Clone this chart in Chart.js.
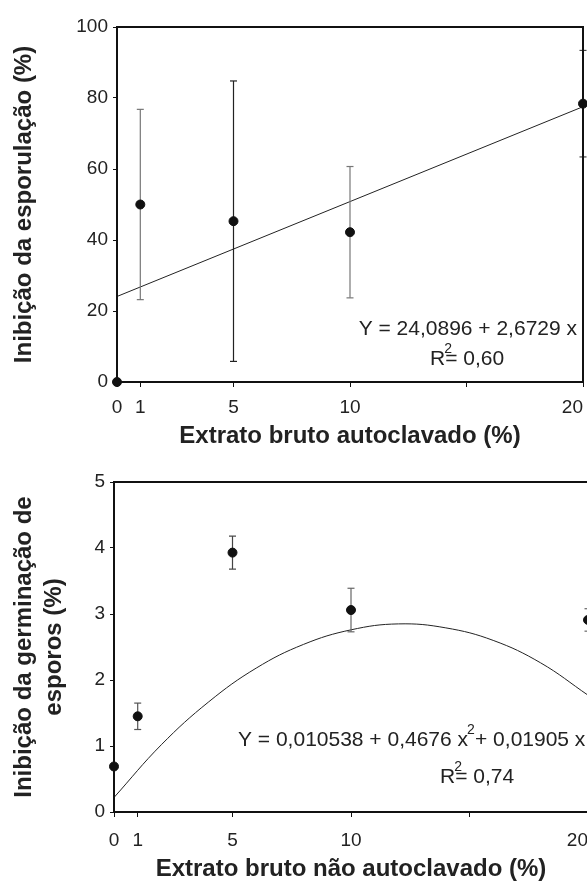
<!DOCTYPE html>
<html>
<head>
<meta charset="utf-8">
<script src="https://cdn.jsdelivr.net/npm/chart.js@4.4.0/dist/chart.umd.min.js"></script>
<style>
  html, body { margin: 0; padding: 0; background: #fff; overflow: hidden; width: 587px; height: 885px; }
  #chart1 { position: absolute; left: 0; top: 0; }
  #chart2 { position: absolute; left: 0; top: 450px; }
</style>
</head>
<body>
<canvas id="chart1" width="587" height="450"></canvas>
<canvas id="chart2" width="600" height="435"></canvas>
<script>
// Extrato bruto
var xTicks = [0, 1, 5, 10, 15, 20];
var xTickLabels = ['0', '1', '5', '10', '', '20\u2007\u2007'];

// Grafico 1 - esporulacao
var concA = [0, 1, 5, 10, 20];
var sporA = [0, 50, 45.3, 42.2, 78.4];
var sporErrA = [0, 26.8, 39.5, 18.5, 15];
var errColA = ['#777', '#777', '#222', '#777', '#444'];
var fitAx = [0, 20];
var fitAy = [24.09, 77.55];

// Grafico 2 - germinacao de esporos
var concB = [0, 1, 5, 10, 20];
var germB = [0.69, 1.45, 3.93, 3.06, 2.91];
var germErrB = [0, 0.2, 0.25, 0.33, 0.17];
var errColB = ['#555', '#555', '#444', '#666', '#666'];
var fitBx = [0, 2, 4, 6, 8, 10, 12, 14, 16, 18, 20];
var fitBy = [0.22, 1.02, 1.67, 2.18, 2.54, 2.76, 2.85, 2.79, 2.60, 2.26, 1.77];

var fam = "'Liberation Sans', Arial, sans-serif";
var tickFont = { family: fam, size: 19 };
var ink = '#222';

function pts(xs, ys) {
    return xs.map(function (x, i) { return { x: x, y: ys[i] }; });
}

function errPts(xs, ys, es, cols) {
    var out = [];
    xs.forEach(function (x, i) {
        if (!es[i]) return;
        out.push({ x: x, y: ys[i] - es[i], c: cols[i] });
        out.push({ x: x, y: ys[i] + es[i], c: cols[i] });
        out.push({ x: x, y: null, c: cols[i] });
    });
    return out;
}

// moldura da area do grafico
var frame = {
    id: 'frame',
    afterDatasetsDraw: function (chart) {
        var a = chart.chartArea, c = chart.ctx;
        c.save();
        c.strokeStyle = '#111';
        c.lineWidth = 2;
        c.strokeRect(a.left, a.top, a.right - a.left, a.bottom - a.top);
        c.restore();
    }
};

// texto com expoente
function drawParts(c, parts, x, y) {
    parts.forEach(function (p) {
        if (p.sup) {
            c.font = '14px ' + fam;
            c.fillText(p.t, x - 1, y - 10);
            x += p.adv || 0;
        } else {
            c.font = '21px ' + fam;
            c.fillText(p.t, x, y);
            x += c.measureText(p.t).width;
        }
    });
}

function partsWidth(c, parts) {
    var w = 0;
    parts.forEach(function (p) {
        if (p.sup) { w += p.adv || 0; }
        else {
            c.font = '21px ' + fam;
            w += c.measureText(p.t).width;
        }
    });
    return w;
}

function eqPlugin(lines) {
    return {
        id: 'eq',
        afterDraw: function (chart) {
            var a = chart.chartArea, c = chart.ctx;
            c.save();
            c.fillStyle = ink;
            c.textBaseline = 'middle';
            c.textAlign = 'left';
            lines.forEach(function (l) {
                var x = l.right != null ? a.left + l.right - partsWidth(c, l.parts) : a.left + l.left;
                drawParts(c, l.parts, x, a.bottom - l.up);
            });
            c.restore();
        }
    };
}

function xScale(title, h, pad, tpad) {
    return {
        type: 'linear', min: 0, max: 20,
        afterBuildTicks: function (s) { s.ticks = xTicks.map(function (v) { return { value: v }; }); },
        afterFit: function (s) {
            s.height = h;
            s.paddingLeft = 0;
            s.paddingRight = 0;
        },
        grid: { display: true, drawOnChartArea: false, drawTicks: true, tickLength: 5, color: '#111' },
        border: { display: true, color: '#111', width: 2 },
        ticks: {
            autoSkip: false, maxRotation: 0, font: tickFont, color: ink, padding: pad,
            callback: function (v, i) { return xTickLabels[i]; }
        },
        title: {
            display: true, text: title, color: ink,
            font: { family: fam, size: 24, weight: 'bold', lineHeight: 1.1 },
            padding: { top: 0, bottom: tpad }
        }
    };
}

function yScale(title, max, step, w) {
    return {
        type: 'linear', min: 0, max: max,
        afterFit: function (s) { s.width = w; },
        grid: { display: true, drawOnChartArea: false, drawTicks: true, tickLength: 4, color: '#111' },
        border: { display: true, color: '#111', width: 2 },
        ticks: { stepSize: step, font: tickFont, color: ink, padding: 5 },
        title: {
            display: true, text: title, color: ink,
            font: { family: fam, size: 24, weight: 'bold', lineHeight: 1.25 },
            padding: { top: 9, bottom: 0 }
        }
    };
}

function datasets(xs, ys, es, cols, fx, fy, tension) {
    return [{
        label: 'media',
        data: pts(xs, ys),
        showLine: false,
        pointRadius: 4.5,
        pointBackgroundColor: '#111',
        pointBorderColor: '#111',
        clip: false,
        order: 0
    }, {
        label: 'desvio',
        data: errPts(xs, ys, es, cols),
        showLine: true,
        spanGaps: false,
        borderWidth: 1.2,
        segment: {
            borderColor: function (ctx) {
                return ctx.chart.data.datasets[1].data[ctx.p0DataIndex].c;
            }
        },
        pointStyle: 'line',
        pointRadius: 3.5,
        pointBorderColor: function (ctx) { return ctx.raw ? ctx.raw.c : '#555'; },
        pointBorderWidth: 1.2,
        clip: false,
        order: 1
    }, {
        label: 'ajuste',
        data: pts(fx, fy),
        showLine: true,
        borderColor: '#222',
        borderWidth: 1,
        pointRadius: 0,
        tension: tension,
        order: 2
    }];
}

var chart1 = new Chart(document.getElementById('chart1'), {
    type: 'scatter',
    data: { datasets: datasets(concA, sporA, sporErrA, errColA, fitAx, fitAy, 0) },
    options: {
        responsive: false, animation: false, devicePixelRatio: 1,
        layout: { autoPadding: false, padding: { left: 0, top: 27, right: 4, bottom: 0 } },
        plugins: { legend: { display: false }, tooltip: { enabled: false } },
        scales: {
            x: xScale('Extrato bruto autoclavado (%)', 68, 9, 0),
            y: yScale('Inibição da esporulação (%)', 100, 20, 117)
        }
    },
    plugins: [frame, eqPlugin([
        { right: 460, up: 53, parts: [{ t: 'Y = 24,0896 + 2,6729 x' }] },
        { left: 313, up: 23, parts: [{ t: 'R' }, { t: '2', sup: true, adv: 0 }, { t: '= 0,60' }] }
    ])]
});

var chart2 = new Chart(document.getElementById('chart2'), {
    type: 'scatter',
    data: { datasets: datasets(concB, germB, germErrB, errColB, fitBx, fitBy, 0.4) },
    options: {
        responsive: false, animation: false, devicePixelRatio: 1,
        layout: { autoPadding: false, padding: { left: 0, top: 32, right: 12, bottom: 0 } },
        plugins: { legend: { display: false }, tooltip: { enabled: false } },
        scales: {
            x: xScale('Extrato bruto não autoclavado (%)', 73, 12, 2),
            y: yScale(['Inibição da germinação de', 'esporos (%)'], 5, 1, 114)
        }
    },
    plugins: [frame, eqPlugin([
        { left: 124, up: 72, parts: [{ t: 'Y = 0,010538 + 0,4676 x' }, { t: '2', sup: true, adv: 7 }, { t: '+ 0,01905 x' }] },
        { left: 326, up: 35, parts: [{ t: 'R' }, { t: '2', sup: true, adv: 0 }, { t: '= 0,74' }] }
    ])]
});
</script>
</body>
</html>
